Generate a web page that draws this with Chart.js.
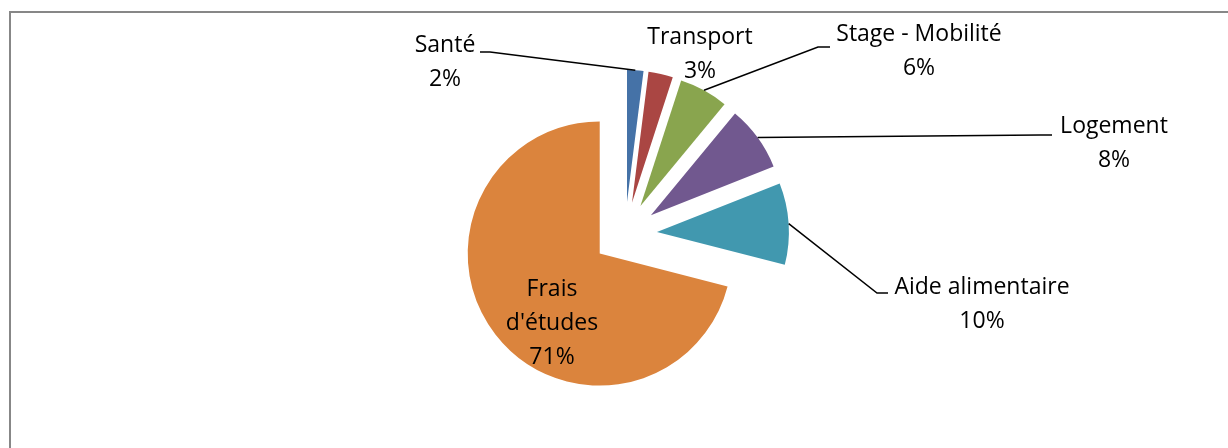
<!DOCTYPE html>
<html>
<head>
<meta charset="utf-8">
<script src="https://cdn.jsdelivr.net/npm/chart.js@4/dist/chart.umd.min.js"></script>
<style>
    html, body { margin: 0; padding: 0; background: #fff; overflow: hidden; }
    #wrap { position: relative; width: 1228px; height: 448px; }
    #frame { position: absolute; left: 9px; top: 11px; width: 1300px; height: 500px; border: 2px solid #878787; }
    #pieChart { position: absolute; left: 0; top: 0; }
</style>
</head>
<body>
<div id="wrap">
    <div id="frame"></div>
    <canvas id="pieChart" width="1228" height="448"></canvas>
</div>
<script>
const categories = ["Santé", "Transport", "Stage - Mobilité", "Logement", "Aide alimentaire", "Frais d'études"];
const shares = [2, 3, 6, 8, 10, 71];
const sliceColors = ["#4572A7", "#AA4643", "#89A54E", "#71588F", "#4198AF", "#DB843D"];

// label placement relative to the pie centre; elbow/end describe the leader line
const labelLayout = [
    { dx: -180, dy: -189, elbow: [-135, -182], end: [-145, -182] },
    { dx: 75, dy: -197 },
    { dx: 294, dy: -200, elbow: [193, -187], end: [205, -187] },
    { dx: 489, dy: -108, elbow: [415, -99], end: [427, -99] },
    { dx: 357, dy: 53, elbow: [252, 59], end: [263, 59] },
    { dx: -73, dy: 55, wrap: true }
];

const EXPLODE = 32;
const FONT = "23px 'Open Sans'";
const LINE_H = 34;

// every slice pulled out of the centre by the same distance
const explodePlugin = {
    id: "explode",
    beforeDatasetDraw(chart, args) {
        const ctx = chart.ctx;
        args.meta.data.forEach((arc) => {
            const mid = (arc.startAngle + arc.endAngle) / 2;
            ctx.save();
            ctx.translate(Math.cos(mid) * EXPLODE, Math.sin(mid) * EXPLODE);
            arc.draw(ctx);
            ctx.restore();
        });
        return false;
    }
};

const labelPlugin = {
    id: "pieLabels",
    afterDatasetsDraw(chart) {
        const ctx = chart.ctx;
        const arcs = chart.getDatasetMeta(0).data;
        const total = shares.reduce((a, b) => a + b, 0);
        ctx.save();
        ctx.font = FONT;
        ctx.fillStyle = "#000";
        ctx.strokeStyle = "#000";
        ctx.lineWidth = 1.5;
        ctx.textAlign = "center";
        ctx.textBaseline = "middle";
        arcs.forEach((arc, i) => {
            const cx = arc.x, cy = arc.y;
            const mid = (arc.startAngle + arc.endAngle) / 2;
            const lay = labelLayout[i];
            if (lay.elbow) {
                const sx = cx + Math.cos(mid) * (EXPLODE + arc.outerRadius);
                const sy = cy + Math.sin(mid) * (EXPLODE + arc.outerRadius);
                ctx.beginPath();
                ctx.moveTo(sx, sy);
                ctx.lineTo(cx + lay.elbow[0], cy + lay.elbow[1]);
                ctx.lineTo(cx + lay.end[0], cy + lay.end[1]);
                ctx.stroke();
            }
            let lines = lay.wrap ? categories[i].split(" ") : [categories[i]];
            lines.push(Math.round(shares[i] / total * 100) + "%");
            lines.forEach((t, k) => {
                ctx.fillText(t, cx + lay.dx, cy + lay.dy + k * LINE_H);
            });
        });
        ctx.restore();
    }
};

new Chart("pieChart", {
    type: "pie",
    data: {
        labels: categories,
        datasets: [{
            data: shares,
            backgroundColor: sliceColors,
            borderWidth: 0,
            radius: 132
        }]
    },
    options: {
        responsive: false,
        animation: false,
        layout: { padding: { left: 22, right: 0, top: 20, bottom: 0 } },
        plugins: {
            legend: { display: false },
            tooltip: { enabled: false }
        }
    },
    plugins: [explodePlugin, labelPlugin]
});
</script>
</body>
</html>
